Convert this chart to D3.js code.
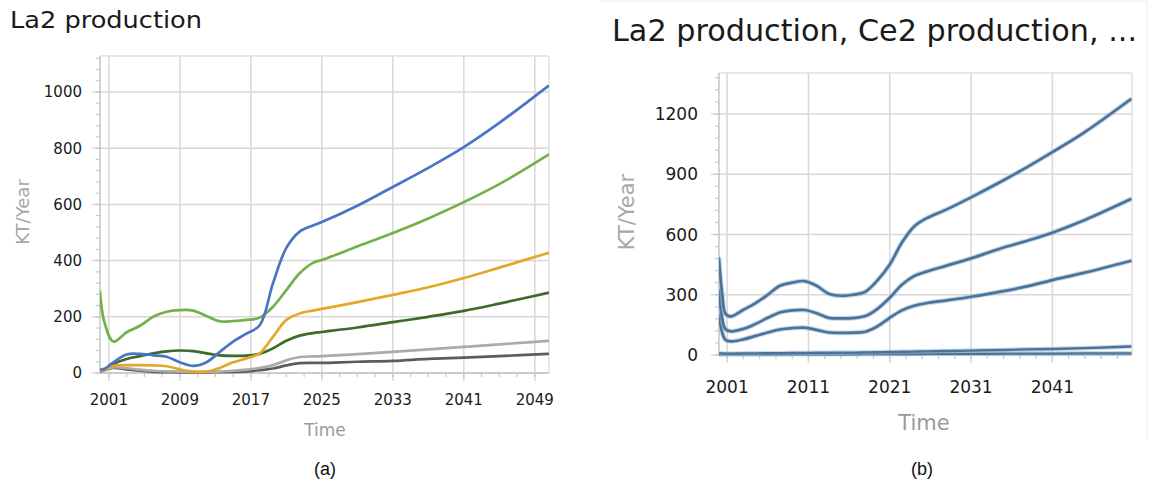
<!DOCTYPE html>
<html>
<head>
<meta charset="utf-8">
<script src="https://cdn.jsdelivr.net/npm/d3@7/dist/d3.min.js"></script>
<style>
  html, body { margin: 0; padding: 0; background: #fff; }
  svg { display: block; }
  text { font-family: "DejaVu Sans", Verdana, sans-serif; }
</style>
</head>
<body>
<svg id="chart" width="1151" height="492"></svg>
<script>
// ---------- Data: panel (a) ----------
const yearsA = [2000, 2000.5, 2001.5, 2003, 2004.5, 2006, 2007.5, 2009, 2010.5, 2012, 2013.5, 2015, 2016.5, 2018, 2019.5, 2021, 2022.5, 2024, 2025, 2029, 2033, 2037, 2041, 2045, 2050.5];
const blueA      = [11, 15, 38, 66, 68, 63, 58, 38, 25, 38, 75, 112, 140, 170, 320, 445, 503, 525, 537, 595, 662, 730, 804, 890, 1021];
const lightGreenA= [289, 180, 112, 145, 168, 200, 218, 224, 222, 203, 184, 185, 189, 197, 236, 295, 355, 392, 402, 450, 498, 550, 608, 672, 776];
const orangeA    = [5, 12, 25, 28, 28, 27, 24, 13, 5, 5, 18, 38, 52, 70, 129, 189, 212, 222, 228, 252, 278, 305, 338, 375, 427];
const darkGreenA = [5, 12, 32, 50, 60, 70, 77, 80, 78, 70, 63, 61, 62, 68, 88, 115, 133, 142, 146, 162, 181, 200, 221, 247, 285];
const lightGrayA = [5, 10, 20, 17, 12, 8, 6, 5, 4, 4, 5, 8, 12, 18, 28, 45, 57, 59, 60, 67, 75, 84, 93, 102, 114];
const darkGrayA  = [5, 10, 18, 13, 8, 4, 3, 2, 2, 2, 3, 4, 6, 10, 16, 27, 35, 36, 36, 40, 43, 50, 55, 60, 68];
const xTicksA = [2001, 2009, 2017, 2025, 2033, 2041, 2049];
const yTicksA = [0, 200, 400, 600, 800, 1000];

// ---------- Data: panel (b) ----------
const yearsB = [2000, 2000.4, 2000.8, 2001.5, 2003, 2004.5, 2006, 2007.5, 2009, 2010.5, 2012, 2013.5, 2015, 2016.5, 2018, 2019.5, 2021, 2022.5, 2024, 2025.5, 2028, 2031, 2035, 2038, 2041, 2045, 2050.6];
const s1B = [480, 300, 205, 192, 225, 258, 300, 345, 360, 368, 345, 305, 295, 300, 315, 372, 450, 560, 640, 680, 725, 785, 870, 938, 1010, 1110, 1272];
const s2B = [320, 180, 128, 118, 130, 155, 185, 212, 222, 224, 208, 185, 182, 184, 194, 230, 285, 350, 393, 415, 445, 481, 535, 570, 609, 672, 775];
const s3B = [200, 110, 75, 68, 78, 95, 112, 127, 134, 136, 125, 112, 110, 111, 116, 143, 185, 222, 245, 258, 272, 290, 318, 343, 373, 410, 468];
const s4B = [8, 8, 7, 7, 8, 8, 9, 9, 10, 10, 11, 11, 12, 12, 13, 14, 15, 16, 17, 18, 20, 22, 25, 28, 30, 34, 42];
const s5B = [3, 3, 3, 3, 3, 3, 3, 3, 4, 4, 4, 4, 4, 4, 5, 5, 5, 5, 5, 6, 6, 6, 7, 7, 7, 8, 8];
const xTicksB = [2001, 2011, 2021, 2031, 2041];
const yTicksB = [0, 300, 600, 900, 1200];

const svg = d3.select("#chart");

function panel(cfg) {
  const g = svg.append("g");
  const x = d3.scaleLinear().domain(cfg.xDomain).range([cfg.left, cfg.right]);
  const y = d3.scaleLinear().domain(cfg.yDomain).range([cfg.bottom, cfg.top]);
  const gridCol = "#d8d8d8";

  g.selectAll(".vg").data(cfg.xTicks).enter().append("line")
    .attr("x1", d => x(d)).attr("x2", d => x(d))
    .attr("y1", cfg.top).attr("y2", cfg.bottom + 8)
    .attr("stroke", gridCol).attr("stroke-width", 1.5);
  g.selectAll(".hg").data(cfg.yTicks).enter().append("line")
    .attr("x1", cfg.left - 8).attr("x2", cfg.right)
    .attr("y1", d => y(d)).attr("y2", d => y(d))
    .attr("stroke", gridCol).attr("stroke-width", 1.5);
  g.append("line").attr("x1", cfg.left).attr("x2", cfg.right).attr("y1", cfg.top).attr("y2", cfg.top)
    .attr("stroke", "#e0e0e0").attr("stroke-width", 1.5);
  g.append("line").attr("x1", cfg.right).attr("x2", cfg.right).attr("y1", cfg.top).attr("y2", cfg.bottom)
    .attr("stroke", "#e0e0e0").attr("stroke-width", 1.5);
  g.append("line").attr("x1", cfg.left).attr("x2", cfg.left).attr("y1", cfg.top).attr("y2", cfg.bottom)
    .attr("stroke", "#c4c4c4").attr("stroke-width", 1.5);
  g.append("line").attr("x1", cfg.left).attr("x2", cfg.right).attr("y1", cfg.bottom).attr("y2", cfg.bottom)
    .attr("stroke", "#c4c4c4").attr("stroke-width", 1.5);
  const minX = d3.range(cfg.xTicks[0], cfg.xDomain[1], cfg.xMinor).filter(v => v > cfg.xDomain[0]);
  g.selectAll(".mx").data(minX).enter().append("line")
    .attr("x1", d => x(d)).attr("x2", d => x(d))
    .attr("y1", cfg.bottom).attr("y2", cfg.bottom + 4)
    .attr("stroke", "#c8c8c8").attr("stroke-width", 1.2);
  const minY = d3.range(0, cfg.yDomain[1], cfg.yMinor);
  g.selectAll(".my").data(minY).enter().append("line")
    .attr("x1", cfg.left - 4).attr("x2", cfg.left)
    .attr("y1", d => y(d)).attr("y2", d => y(d))
    .attr("stroke", "#c8c8c8").attr("stroke-width", 1.2);

  g.selectAll(".xl").data(cfg.xTicks).enter().append("text")
    .attr("x", d => x(d)).attr("y", cfg.xLabelY)
    .attr("text-anchor", "middle").attr("font-size", cfg.tickFont).attr("fill", "#1a1a1a")
    .text(d => d);
  g.selectAll(".yl").data(cfg.yTicks).enter().append("text")
    .attr("x", cfg.yLabelX).attr("y", d => y(d)).attr("dy", "0.36em")
    .attr("text-anchor", "end").attr("font-size", cfg.tickFont).attr("fill", "#1a1a1a")
    .text(d => d);

  g.append("text").attr("x", cfg.timeX).attr("y", cfg.timeY)
    .attr("text-anchor", "middle").attr("font-size", cfg.timeFont).attr("fill", "#9a9a9a")
    .text("Time");
  g.append("text").attr("transform", `translate(${cfg.unitX},${cfg.unitY}) rotate(-90)`)
    .attr("text-anchor", "middle").attr("font-size", cfg.unitFont).attr("fill", "#a8a8a8")
    .text("KT/Year");

  const t = g.append("text").attr("x", cfg.titleX).attr("y", cfg.titleY)
    .attr("font-size", cfg.titleFont).attr("fill", "#1a1a1a").text(cfg.title);
  if (cfg.titleLen) t.attr("textLength", cfg.titleLen).attr("lengthAdjust", "spacingAndGlyphs");

  g.append("text").attr("x", cfg.capX).attr("y", 475)
    .attr("text-anchor", "middle").attr("font-size", 18)
    .style("font-family", "'Liberation Sans', Arial, sans-serif").attr("fill", "#111")
    .text(cfg.caption);

  const clipId = "clip" + cfg.caption.replace(/\W/g, "");
  svg.append("clipPath").attr("id", clipId).append("rect")
    .attr("x", cfg.left).attr("y", cfg.top).attr("width", cfg.right - cfg.left).attr("height", cfg.bottom - cfg.top + 2);
  const lg = g.append("g").attr("clip-path", `url(#${clipId})`);
  cfg.series.forEach(s => {
    const pts = cfg.years.map((yr, i) => [yr, s.values[i]]);
    const line = d3.line().x(d => x(d[0])).y(d => y(d[1])).curve(d3.curveCatmullRom.alpha(0.5));
    if (s.halo) {
      lg.append("path").attr("d", line(pts)).attr("fill", "none")
        .attr("stroke", s.halo).attr("stroke-width", s.width + 2.2).attr("stroke-opacity", 0.55)
        .attr("stroke-linejoin", "round").attr("stroke-linecap", "round");
    }
    lg.append("path").attr("d", line(pts)).attr("fill", "none")
      .attr("stroke", s.color).attr("stroke-width", s.width)
      .attr("stroke-linejoin", "round").attr("stroke-linecap", "round");
  });
}

panel({
  xDomain: [2000, 2050.6], yDomain: [0, 1128],
  left: 100, right: 549, top: 56, bottom: 373,
  xTicks: xTicksA, yTicks: yTicksA, xMinor: 2, yMinor: 40,
  tickFont: 15, xLabelY: 405, yLabelX: 82,
  timeX: 325, timeY: 436, timeFont: 17,
  unitX: 29, unitY: 212, unitFont: 18,
  title: "La2 production", titleX: 10, titleY: 28, titleFont: 23, titleLen: 192,
  caption: "(a)", capX: 325,
  years: yearsA,
  series: [
    { values: darkGrayA,   color: "#5c5c5c", width: 2.7 },
    { values: lightGrayA,  color: "#ababab", width: 2.7 },
    { values: darkGreenA,  color: "#3d6b2c", width: 2.7 },
    { values: orangeA,     color: "#e3a82a", width: 2.7 },
    { values: lightGreenA, color: "#73b04a", width: 2.7 },
    { values: blueA,       color: "#4a74c6", width: 2.7 }
  ]
});

panel({
  xDomain: [2000, 2050.8], yDomain: [0, 1404],
  left: 719, right: 1132, top: 73, bottom: 355,
  xTicks: xTicksB, yTicks: yTicksB, xMinor: 2, yMinor: 60,
  tickFont: 17, xLabelY: 393, yLabelX: 698,
  timeX: 924, timeY: 430, timeFont: 21,
  unitX: 634, unitY: 212, unitFont: 21,
  title: "La2 production, Ce2 production, ...", titleX: 612, titleY: 41, titleFont: 30, titleLen: 525,
  caption: "(b)", capX: 922,
  years: yearsB,
  series: [
    { values: s5B, color: "#4a7399", width: 2.4, halo: "#9cbad8" },
    { values: s4B, color: "#4a7399", width: 2.4, halo: "#9cbad8" },
    { values: s3B, color: "#4a7399", width: 2.7, halo: "#9cbad8" },
    { values: s2B, color: "#4a7399", width: 2.7, halo: "#9cbad8" },
    { values: s1B, color: "#4a7399", width: 2.7, halo: "#9cbad8" }
  ]
});

svg.append("line").attr("x1", 600).attr("x2", 1147).attr("y1", 1).attr("y2", 1)
  .attr("stroke", "#ececec").attr("stroke-width", 1);
svg.append("line").attr("x1", 1147).attr("x2", 1147).attr("y1", 1).attr("y2", 440)
  .attr("stroke", "#ececec").attr("stroke-width", 1);
</script>
</body>
</html>
